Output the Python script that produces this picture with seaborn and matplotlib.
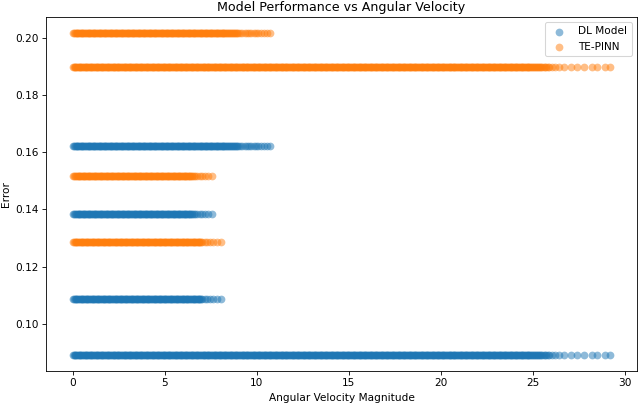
import matplotlib
matplotlib.use("Agg")
import matplotlib.pyplot as plt
import seaborn as sns
import pandas as pd

# Angular velocity magnitudes of the samples, grouped by the error level they produce
speeds_a = [
    0.00, 0.09, 0.18, 0.28, 0.37, 0.46, 0.55, 0.64, 0.74, 0.83, 0.92,
    1.01, 1.10, 1.19, 1.29, 1.38, 1.47, 1.56, 1.66, 1.75, 1.84, 1.93,
    2.02, 2.12, 2.21, 2.30, 2.39, 2.48, 2.58, 2.67, 2.76, 2.85, 2.95,
    3.04, 3.13, 3.22, 3.31, 3.41, 3.50, 3.59, 3.68, 3.78, 3.87, 3.96,
    4.05, 4.14, 4.24, 4.33, 4.42, 4.51, 4.61, 4.70, 4.79, 4.88, 4.97,
    5.07, 5.16, 5.25, 5.34, 5.44, 5.53, 5.62, 5.71, 5.80, 5.90, 5.99,
    6.08, 6.17, 6.27, 6.36, 6.45, 6.54, 6.63, 6.73, 6.82, 6.91,
    7.00, 7.10, 7.19, 7.28, 7.37, 7.46, 7.56, 7.65, 7.74, 7.83, 7.93,
    8.02, 8.11, 8.20, 8.29, 8.39, 8.48, 8.57, 8.66, 8.76, 8.85, 8.94,
    9.03, 9.12, 9.22, 9.31, 9.40, 9.49, 9.59, 9.68, 9.77, 9.86, 9.95,
    10.05, 10.14, 10.23, 10.32, 10.42, 10.51, 10.60, 10.69, 10.78, 10.88, 10.97,
    11.06, 11.15, 11.25, 11.34, 11.43, 11.52, 11.61, 11.71, 11.80, 11.89, 11.98,
    12.08, 12.17, 12.26, 12.35, 12.44, 12.54, 12.63, 12.72, 12.81, 12.91,
    13.00, 13.09, 13.18, 13.27, 13.37, 13.46, 13.55, 13.64, 13.74, 13.83, 13.92,
    14.01, 14.10, 14.20, 14.29, 14.38, 14.47, 14.57, 14.66, 14.75, 14.84, 14.93,
    15.03, 15.12, 15.21, 15.30, 15.40, 15.49, 15.58, 15.67, 15.76, 15.86, 15.95,
    16.04, 16.13, 16.23, 16.32, 16.41, 16.50, 16.59, 16.69, 16.78, 16.87, 16.96,
    17.06, 17.15, 17.24, 17.33, 17.42, 17.52, 17.61, 17.70, 17.79, 17.89, 17.98,
    18.07, 18.16, 18.25, 18.35, 18.44, 18.53, 18.62, 18.72, 18.81, 18.90, 18.99,
    19.08, 19.18, 19.27, 19.36, 19.45, 19.55, 19.64, 19.73, 19.82, 19.91,
    20.01, 20.10, 20.19, 20.28, 20.38, 20.47, 20.56, 20.65, 20.74, 20.84, 20.93,
    21.02, 21.11, 21.21, 21.30, 21.39, 21.48, 21.57, 21.67, 21.76, 21.85, 21.94,
    22.04, 22.13, 22.22, 22.31, 22.40, 22.50, 22.59, 22.68, 22.77, 22.87, 22.96,
    23.05, 23.14, 23.23, 23.33, 23.42, 23.51, 23.60, 23.70, 23.79, 23.88, 23.97,
    24.06, 24.16, 24.25, 24.34, 24.43, 24.53, 24.62, 24.71, 24.80, 24.89, 24.99,
    25.10, 25.21, 25.33, 25.45, 25.58, 25.72, 25.87, 26.03, 26.20, 26.40,
    26.7, 27.1, 27.4, 27.8, 28.2, 28.5, 28.9, 29.2,
    0.05, 0.14, 0.23, 0.32, 0.41, 0.50, 0.60, 0.69, 0.78, 0.87, 0.97,
    1.06, 1.15, 1.24, 1.33, 1.43, 1.52, 1.61, 1.70, 1.80, 1.89, 1.98,
    2.07, 2.16, 2.26, 2.35, 2.44, 2.53, 2.62, 2.72, 2.81, 2.90, 2.99,
    3.09, 3.18, 3.27, 3.36, 3.45, 3.55, 3.64, 3.73, 3.82, 3.92,
    4.01, 4.10, 4.19, 4.28, 4.38, 4.47, 4.56, 4.65, 4.75, 4.84, 4.93,
    5.02, 5.11, 5.21, 5.30, 5.39, 5.48, 5.58, 5.67, 5.76, 5.85, 5.94,
    6.04, 6.13, 6.22, 6.31, 6.40, 6.50, 6.59, 6.68, 6.77, 6.87, 6.96,
    7.05, 7.14, 7.23, 7.33, 7.42, 7.51, 7.60, 7.70, 7.79, 7.88, 7.97,
    8.06, 8.16, 8.25, 8.34, 8.43, 8.53, 8.62, 8.71, 8.80, 8.89, 8.99,
    9.08, 9.17, 9.26, 9.36, 9.45, 9.54, 9.63, 9.72, 9.82, 9.91,
    10.00, 10.09, 10.19, 10.28, 10.37, 10.46, 10.55, 10.65, 10.74, 10.83, 10.92,
    11.02, 11.11, 11.20, 11.29, 11.38, 11.48, 11.57, 11.66, 11.75, 11.84, 11.94,
    12.03, 12.12, 12.21, 12.31, 12.40, 12.49, 12.58, 12.67, 12.77, 12.86, 12.95,
    13.04, 13.14, 13.23, 13.32, 13.41, 13.50, 13.60, 13.69, 13.78, 13.87, 13.97,
    14.06, 14.15, 14.24, 14.33, 14.43, 14.52, 14.61, 14.70, 14.80, 14.89, 14.98,
    15.07, 15.16, 15.26, 15.35, 15.44, 15.53, 15.63, 15.72, 15.81, 15.90, 15.99,
    16.09, 16.18, 16.27, 16.36, 16.46, 16.55, 16.64, 16.73, 16.82, 16.92,
    17.01, 17.10, 17.19, 17.29, 17.38, 17.47, 17.56, 17.65, 17.75, 17.84, 17.93,
    18.02, 18.12, 18.21, 18.30, 18.39, 18.48, 18.58, 18.67, 18.76, 18.85, 18.95,
    19.04, 19.13, 19.22, 19.31, 19.41, 19.50, 19.59, 19.68, 19.78, 19.87, 19.96,
    20.05, 20.14, 20.24, 20.33, 20.42, 20.51, 20.61, 20.70, 20.79, 20.88, 20.97,
    21.07, 21.16, 21.25, 21.34, 21.44, 21.53, 21.62, 21.71, 21.80, 21.90, 21.99,
    22.08, 22.17, 22.27, 22.36, 22.45, 22.54, 22.63, 22.73, 22.82, 22.91,
    23.00, 23.10, 23.19, 23.28, 23.37, 23.46, 23.56, 23.65, 23.74, 23.83, 23.93,
    24.02, 24.11, 24.20, 24.29, 24.39, 24.48, 24.57, 24.66, 24.76, 24.85, 24.94,
    25.04, 25.15, 25.27, 25.39, 25.51, 25.65, 25.80,
]
speeds_b = [
    0.02, 0.11, 0.20, 0.30, 0.39, 0.48, 0.57, 0.67, 0.76, 0.85, 0.94,
    1.03, 1.13, 1.22, 1.31, 1.40, 1.50, 1.59, 1.68, 1.77, 1.86, 1.96,
    2.05, 2.14, 2.23, 2.33, 2.42, 2.51, 2.60, 2.69, 2.79, 2.88, 2.97,
    3.06, 3.16, 3.25, 3.34, 3.43, 3.52, 3.62, 3.71, 3.80, 3.89, 3.99,
    4.08, 4.17, 4.26, 4.35, 4.45, 4.54, 4.63, 4.72, 4.82, 4.91,
    5.00, 5.09, 5.18, 5.28, 5.37, 5.46, 5.55, 5.65, 5.74, 5.83, 5.92,
    6.01, 6.11, 6.20, 6.29, 6.38, 6.48, 6.57, 6.66, 6.75, 6.84, 6.94,
    7.03, 7.12, 7.21, 7.31, 7.40, 7.49, 7.58, 7.67, 7.77, 7.86, 7.95,
    8.04, 8.14, 8.23, 8.33, 8.44, 8.55, 8.66, 8.77, 8.88, 8.99,
    9.10, 9.21, 9.33, 9.45, 9.57, 9.69, 9.82, 9.95, 10.08, 10.22,
    10.37, 10.53, 10.70,
    0.06, 0.15, 0.25, 0.34, 0.43, 0.52, 0.62, 0.71, 0.80, 0.89, 0.99,
    1.08, 1.17, 1.26, 1.35, 1.45, 1.54, 1.63, 1.72, 1.82, 1.91,
    2.00, 2.09, 2.18, 2.28, 2.37, 2.46, 2.55, 2.65, 2.74, 2.83, 2.92,
    3.01, 3.11, 3.20, 3.29, 3.38, 3.48, 3.57, 3.66, 3.75, 3.84, 3.94,
    4.03, 4.12, 4.21, 4.31, 4.40, 4.49, 4.58, 4.67, 4.77, 4.86, 4.95,
    5.04, 5.14, 5.23, 5.32, 5.41, 5.50, 5.60, 5.69, 5.78, 5.87, 5.97,
    6.06, 6.15, 6.24, 6.33, 6.43, 6.52, 6.61, 6.70, 6.80, 6.89, 6.98,
    7.07, 7.16, 7.26, 7.35, 7.44, 7.53, 7.63, 7.72, 7.81, 7.90, 7.99,
    8.09, 8.18, 8.28, 8.38, 8.50, 8.61, 8.72, 8.83, 8.94,
]
speeds_c = [
    0.01, 0.10, 0.19, 0.29, 0.38, 0.47, 0.56, 0.66, 0.75, 0.84, 0.93,
    1.02, 1.12, 1.21, 1.30, 1.39, 1.49, 1.58, 1.67, 1.76, 1.85, 1.95,
    2.04, 2.13, 2.22, 2.32, 2.41, 2.50, 2.59, 2.68, 2.78, 2.87, 2.96,
    3.05, 3.15, 3.24, 3.33, 3.42, 3.51, 3.61, 3.70, 3.79, 3.88, 3.98,
    4.07, 4.16, 4.25, 4.34, 4.44, 4.53, 4.62, 4.71, 4.81, 4.90, 4.99,
    5.08, 5.17, 5.27, 5.36, 5.45, 5.54, 5.64, 5.73, 5.82, 5.91,
    6.00, 6.10, 6.19, 6.28, 6.37, 6.47, 6.56, 6.65, 6.74, 6.83, 6.93,
    7.04, 7.16, 7.30, 7.45, 7.62, 7.82, 8.05,
    0.05, 0.15, 0.24, 0.33, 0.42, 0.51, 0.61, 0.70, 0.79, 0.88, 0.98,
    1.07, 1.16, 1.25, 1.34, 1.44, 1.53, 1.62, 1.71, 1.81, 1.90, 1.99,
    2.08, 2.17, 2.27, 2.36, 2.45, 2.54, 2.64, 2.73, 2.82, 2.91,
    3.00, 3.10, 3.19, 3.28, 3.37, 3.47, 3.56, 3.65, 3.74, 3.83, 3.93,
    4.02, 4.11, 4.20, 4.30, 4.39, 4.48, 4.57, 4.66, 4.76, 4.85, 4.94,
    5.03, 5.13, 5.22, 5.31, 5.40, 5.49, 5.59, 5.68, 5.77, 5.86, 5.96,
    6.05, 6.14, 6.23, 6.32, 6.42, 6.51, 6.60, 6.69, 6.79, 6.88, 6.98,
]
speeds_d = [
    0.03, 0.12, 0.21, 0.31, 0.40, 0.49, 0.58, 0.68, 0.77, 0.86, 0.95,
    1.04, 1.14, 1.23, 1.32, 1.41, 1.51, 1.60, 1.69, 1.78, 1.87, 1.97,
    2.06, 2.15, 2.24, 2.34, 2.43, 2.52, 2.61, 2.70, 2.80, 2.89, 2.98,
    3.07, 3.17, 3.26, 3.35, 3.44, 3.53, 3.63, 3.72, 3.81, 3.90,
    4.00, 4.09, 4.18, 4.27, 4.36, 4.46, 4.55, 4.64, 4.73, 4.83, 4.92,
    5.01, 5.10, 5.19, 5.29, 5.38, 5.47, 5.56, 5.66, 5.75, 5.84, 5.93,
    6.02, 6.12, 6.21, 6.30, 6.39, 6.50, 6.62, 6.75, 6.89, 7.04, 7.20,
    7.37, 7.55,
    0.07, 0.16, 0.26, 0.35, 0.44, 0.53, 0.63, 0.72, 0.81, 0.90, 1.00,
    1.09, 1.18, 1.27, 1.36, 1.46, 1.55, 1.64, 1.73, 1.83, 1.92,
    2.01, 2.10, 2.19, 2.29, 2.38, 2.47, 2.56, 2.66, 2.75, 2.84, 2.93,
    3.02, 3.12, 3.21, 3.30, 3.39, 3.49, 3.58, 3.67, 3.76, 3.85, 3.95,
    4.04, 4.13, 4.22, 4.32, 4.41, 4.50, 4.59, 4.68, 4.78, 4.87, 4.96,
    5.05, 5.15, 5.24, 5.33, 5.42, 5.51, 5.61, 5.70, 5.79, 5.88, 5.98,
    6.07, 6.16, 6.25, 6.35, 6.45, 6.56,
]

# Error of each model for each group of samples
dl_errors = [0.0892, 0.1621, 0.1088, 0.1383]
te_errors = [0.1896, 0.2016, 0.1288, 0.1516]

groups = [speeds_a, speeds_b, speeds_c, speeds_d]
rows = []
for speeds, dl, te in zip(groups, dl_errors, te_errors):
    for v in speeds:
        rows.append({"speed": v, "DL Model": dl, "TE-PINN": te})
df = pd.DataFrame(rows)

DPI = 76
fig = plt.figure(figsize=(640 / DPI, 403 / DPI), dpi=DPI)
ax = fig.add_axes([46 / 640, 1 - 371 / 403, (637 - 46) / 640, (371 - 17) / 403])

sns.scatterplot(data=df, x="speed", y="DL Model", ax=ax, label="DL Model",
                color="#1f77b4", alpha=0.5, linewidth=0, s=54)
sns.scatterplot(data=df, x="speed", y="TE-PINN", ax=ax, label="TE-PINN",
                color="#ff7f0e", alpha=0.5, linewidth=0, s=54)

ax.set_title("Model Performance vs Angular Velocity")
ax.set_xlabel("Angular Velocity Magnitude")
ax.set_ylabel("Error")
ax.legend(loc="upper right")

fig.savefig("out.png", dpi=DPI)
